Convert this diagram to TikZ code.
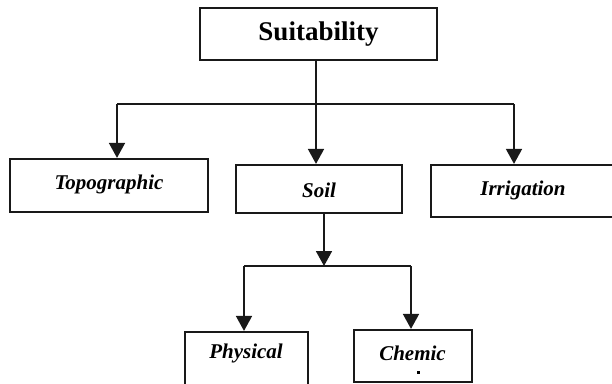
\documentclass[tikz,border=0pt]{standalone}
\usepackage{fontspec}
\setmainfont{Liberation Serif}
\usetikzlibrary{arrows.meta}
\begin{document}
\begin{tikzpicture}[x=1pt,y=-1pt,
  box/.style={draw=black!90, line width=2.2pt, fill=white, inner sep=0pt},
  lbl/.style={font=\fontsize{21}{24}\selectfont\bfseries\itshape, text=black, inner sep=0pt},
  conn/.style={draw=black!90, line width=1.7pt},
  arr/.style={conn, -{Triangle[length=15pt,width=16pt]}}]
\clip (0,0) rectangle (612,383);
\fill[white] (0,0) rectangle (612,383);
% boxes
\node[box, minimum width=237pt, minimum height=52pt] (suit) at (318.5,34)
  {\fontsize{27}{30}\selectfont\bfseries Suitability};
\node[box, minimum width=198pt, minimum height=53pt] (topo) at (109,185.5) {};
\node[lbl] (topot) at (109,184) {Topographic};
\node[box, minimum width=166pt, minimum height=48pt] (soil) at (319,189) {};
\node[lbl] (soilt) at (319,190) {Soil};
\node[box, minimum width=190pt, minimum height=52pt] (irr) at (526,191) {};
\node[lbl] (irrt) at (523,190) {Irrigation};
\node[box, minimum width=123pt, minimum height=68pt] (phys) at (246.5,366) {};
\node[lbl] (physt) at (246,353) {Physical};
\node[box, minimum width=118pt, minimum height=52pt] (chem) at (413,356) {};
\node[lbl] (chemt) at (412.5,353) {Chemic};
\fill[black] (417,371) rectangle (419.5,373.5);
% junctions
\coordinate (jl) at (117,104);
\coordinate (jr) at (514,104);
\coordinate (jm) at (316,104);
\coordinate (sd) at (324,266);
\coordinate (pl) at (244,266);
\coordinate (pr) at (411,266);
% connectors
\draw[conn] (jl) -- (jr);
\draw[arr] (jm |- suit.south) -- (jm |- soil.north);
\draw[arr] (jl) -- (jl |- topo.north);
\draw[arr] (jr) -- (jr |- irr.north);
\draw[arr] (sd |- soil.south) -- (sd);
\draw[conn] (pl) -- (pr);
\draw[arr] (pl) -- (pl |- phys.north);
\draw[arr] (pr) -- (pr |- chem.north);
\end{tikzpicture}
\end{document}
